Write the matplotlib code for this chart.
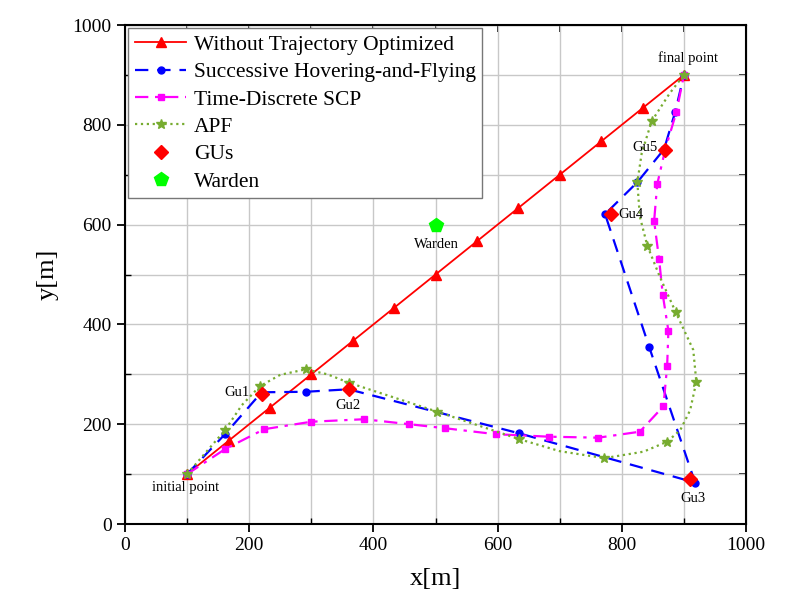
import matplotlib
matplotlib.use("Agg")
import matplotlib.pyplot as plt
from matplotlib.ticker import MultipleLocator, NullFormatter

plt.rcParams['font.family'] = ['Liberation Serif', 'DejaVu Serif']
plt.rcParams['mathtext.fontset'] = 'stix'

# Without trajectory optimization: straight line start -> end
red_x = [100, 166.7, 233.3, 300, 366.7, 433.3, 500, 566.7, 633.3, 700, 766.7, 833.3, 900]
red_y = [100, 166.7, 233.3, 300, 366.7, 433.3, 500, 566.7, 633.3, 700, 766.7, 833.3, 900]

# Successive hovering-and-flying
hf_x = [100, 161, 220, 291, 360, 634, 918, 844, 773, 825, 868, 886, 900]
hf_y = [100, 180, 264, 265, 270, 182, 83, 355, 621, 685, 751, 826, 900]

# Time-discrete SCP
scp_x = [100, 161, 224, 300, 385, 458, 515, 597, 683, 762, 829, 867, 873, 875,
         866, 860, 852, 857, 870, 888, 900]
scp_y = [100, 150, 190, 205, 210, 200, 192, 180, 175, 173, 185, 236, 317, 387,
         459, 531, 607, 681, 751, 826, 900]

# APF curve (traced) and which vertices carry a star
apf_x = [100, 161, 188, 217, 250, 291, 326, 361, 503, 635, 700, 772, 835, 873,
         894, 910, 920, 915, 887, 861, 841, 829, 825, 832, 848, 877, 900]
apf_y = [100, 188, 238, 276, 299, 310, 300, 283, 225, 170, 146, 132, 145, 165,
         188, 228, 285, 349, 424, 496, 558, 616, 685, 743, 807, 863, 900]
apf_marks = [0, 1, 3, 5, 7, 8, 9, 11, 13, 16, 18, 20, 22, 24, 26]

# ground users and warden
gu_x = [220, 360, 910, 782, 870]
gu_y = [260, 270, 90, 621, 750]
gu_names = ['Gu1', 'Gu2', 'Gu3', 'Gu4', 'Gu5']
gu_text_x = [180, 359, 915, 814, 837]
gu_text_y = [264, 237, 52, 621, 755]
warden_x = [500]
warden_y = [600]

fig = plt.figure(figsize=(8.08, 6.07), dpi=100)
ax = fig.add_axes([0.1547, 0.1367, 0.7686, 0.8221])

ax.plot(red_x, red_y, '-^', color='red', lw=1.3, ms=6.5,
        label='Without Trajectory Optimized')
ax.plot(hf_x, hf_y, '--o', color='blue', lw=1.6, ms=5, dashes=(6, 4),
        label='Successive Hovering-and-Flying')
ax.plot(scp_x, scp_y, '-.s', color='magenta', lw=1.6, ms=5,
        dashes=(6, 3, 1.5, 3), label='Time-Discrete SCP')
ax.plot(apf_x, apf_y, ':*', color='#77AC30', lw=1.6, ms=7,
        markevery=apf_marks, label='APF')
ax.plot(gu_x, gu_y, 'D', color='red', ms=7, ls='none', label='GUs')
ax.plot(warden_x, warden_y, 'p', color='#00FF00', ms=10, ls='none', label='Warden')

for name, tx, ty in zip(gu_names, gu_text_x, gu_text_y):
    ax.text(tx, ty, name, ha='center', va='center', fontsize=10.5)
ax.text(98, 74, 'initial point', ha='center', va='center', fontsize=10.5)
ax.text(906, 933, 'final point', ha='center', va='center', fontsize=10.5)
ax.text(501, 561, 'Warden', ha='center', va='center', fontsize=10.5)

ax.set_xlim(0, 1000)
ax.set_ylim(0, 1000)
ax.xaxis.set_major_locator(MultipleLocator(200))
ax.yaxis.set_major_locator(MultipleLocator(200))
ax.xaxis.set_minor_locator(MultipleLocator(100))
ax.yaxis.set_minor_locator(MultipleLocator(100))
ax.grid(True, which='both', color='#c8c8c8', lw=1.0)
ax.set_axisbelow(True)
ax.tick_params(which='major', direction='out', length=6, width=1.3, labelsize=14)
ax.tick_params(which='minor', direction='in', length=4, width=1.0)

for sp in ax.spines.values():
    sp.set_linewidth(1.5)

# ticks on top and right, every 100, pointing inward
top = ax.secondary_xaxis('top')
top.xaxis.set_major_locator(MultipleLocator(100))
top.xaxis.set_major_formatter(NullFormatter())
top.tick_params(direction='in', length=5, width=1.2)
right = ax.secondary_yaxis('right')
right.yaxis.set_major_locator(MultipleLocator(100))
right.yaxis.set_major_formatter(NullFormatter())
right.tick_params(direction='in', length=5, width=1.2)

ax.set_xlabel('x[m]', fontsize=19, labelpad=10)
ax.set_ylabel('y[m]', fontsize=19, labelpad=10)

leg = ax.legend(loc='upper left', fontsize=15.5, numpoints=1, fancybox=False,
                framealpha=1, edgecolor='#777777', borderaxespad=0.15,
                handlelength=2.4, handletextpad=0.35, labelspacing=0.34,
                borderpad=0.3)
leg.get_frame().set_linewidth(1.0)

fig.savefig('out.png', dpi=100)
